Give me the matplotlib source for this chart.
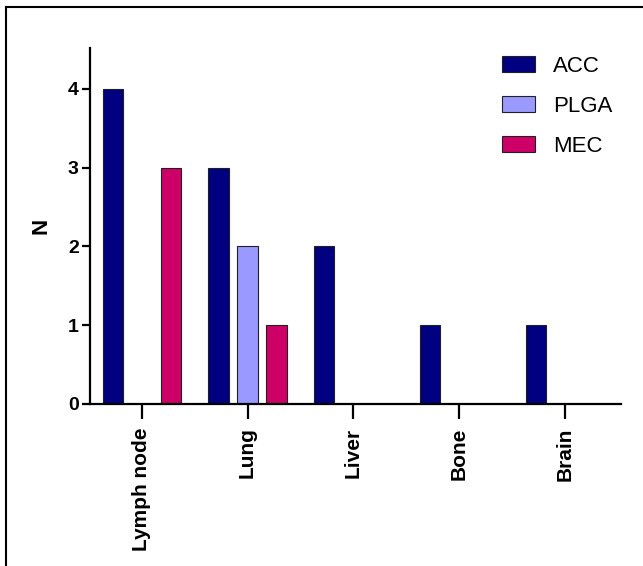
import numpy as np
import matplotlib
matplotlib.use("Agg")
import matplotlib.pyplot as plt
from matplotlib.lines import Line2D

sites = ["Lymph node", "Lung", "Liver", "Bone", "Brain"]
acc = [4, 3, 2, 1, 1]
plga = [0, 2, 0, 0, 0]
mec = [3, 1, 0, 0, 0]

plt.rcParams["font.family"] = ["Liberation Sans", "DejaVu Sans"]

fig = plt.figure(figsize=(6.43, 5.66), dpi=100)
ax = fig.add_axes([90 / 643, 1 - 404 / 566, 531 / 643, 356 / 566])

x = np.arange(len(sites))
w = 0.19
step = 0.274
ax.bar(x - step, acc, w, color="#000080", edgecolor="#202020", linewidth=0.8, label="ACC")
ax.bar(x, plga, w, color="#9999FF", edgecolor="#202020", linewidth=0.8, label="PLGA")
ax.bar(x + step, mec, w, color="#CC0066", edgecolor="#202020", linewidth=0.8, label="MEC")

ax.set_xlim(-0.489, 4.53)
ax.set_ylim(0, 4.52)
ax.set_yticks([0, 1, 2, 3, 4])
ax.set_xticks(x)
ax.set_xticklabels(sites, rotation=90, fontsize=15, fontweight="bold")
for lbl in ax.get_yticklabels():
    lbl.set_fontsize(14)
    lbl.set_fontweight("bold")
ax.set_ylabel("N", fontsize=16, fontweight="bold", labelpad=12)

for side in ["top", "right"]:
    ax.spines[side].set_visible(False)
for side in ["left", "bottom"]:
    ax.spines[side].set_linewidth(1.6)
ax.tick_params(axis="x", length=11, width=1.6, pad=6)
ax.tick_params(axis="y", length=6, width=1.6, pad=2)

ax.legend(loc="upper left", bbox_to_anchor=(482 / 643, 1 - 36 / 566),
          bbox_transform=fig.transFigure, frameon=False, fontsize=16,
          handlelength=1.5, handleheight=0.72, handletextpad=0.8,
          labelspacing=0.85)

# thin frame around the panel (left and top edges)
fig.add_artist(Line2D([6 / 643, 6 / 643], [0, 1 - 7 / 566], color="black",
                      linewidth=1.5, transform=fig.transFigure))
fig.add_artist(Line2D([6 / 643, 1], [1 - 7 / 566, 1 - 7 / 566], color="black",
                      linewidth=1.5, transform=fig.transFigure))

fig.savefig("out.png", dpi=100)
